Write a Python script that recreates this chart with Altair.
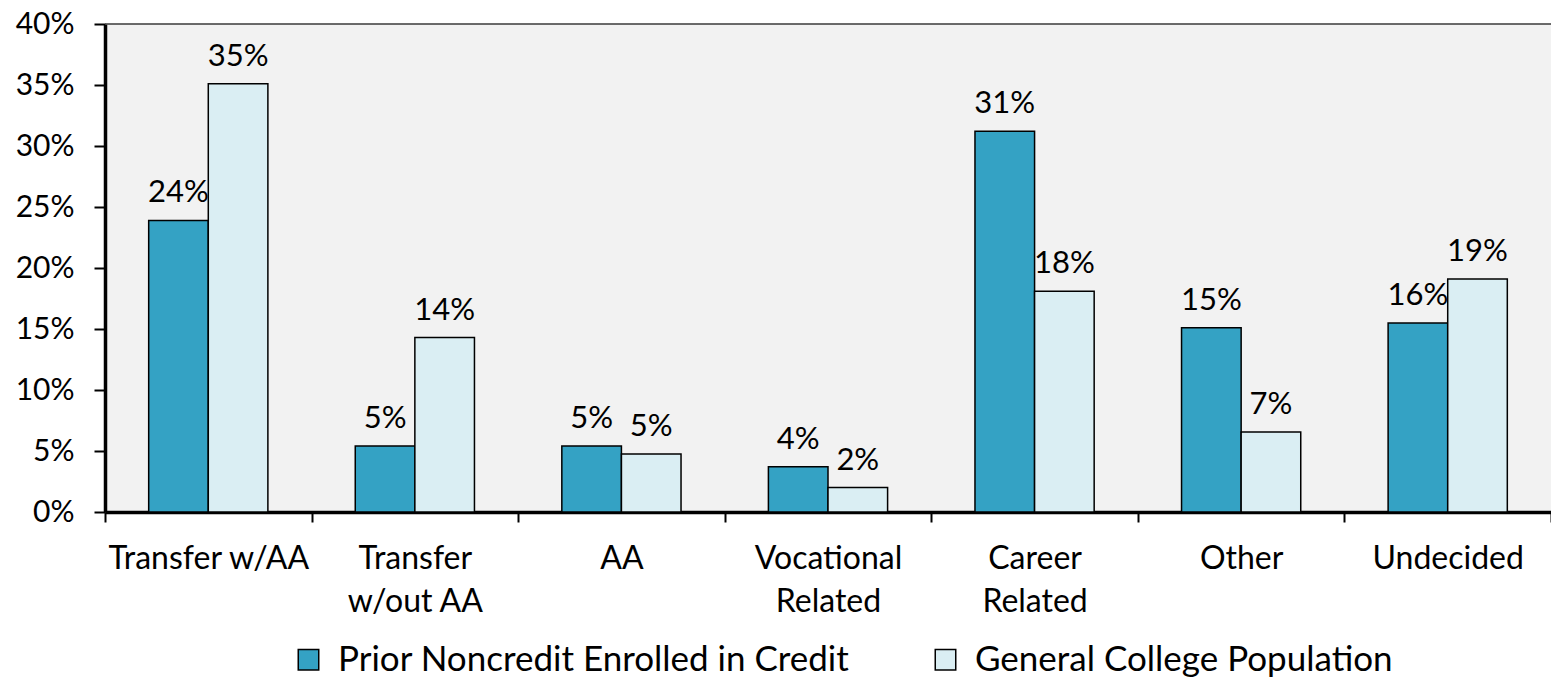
import altair as alt
import pandas as pd

categories = ["Transfer w/AA", "Transfer|w/out AA", "AA", "Vocational|Related",
              "Career|Related", "Other", "Undecided"]
series = ["Prior Noncredit Enrolled in Credit", "General College Population"]
prior = [23.9, 5.4, 5.4, 3.7, 31.2, 15.1, 15.5]
general = [35.1, 14.3, 4.75, 2.0, 18.1, 6.55, 19.1]
colors = ["#34A2C4", "#DAEEF3"]
y_ticks = [0, 5, 10, 15, 20, 25, 30, 35, 40]
y_max = 40

rows = []
for c, p, g in zip(categories, prior, general):
    rows.append({"category": c, "series": series[0], "value": p})
    rows.append({"category": c, "series": series[1], "value": g})
df = pd.DataFrame(rows)

FONT = "Lato"

x_enc = alt.X(
    "category:N", sort=categories,
    scale=alt.Scale(paddingInner=0, paddingOuter=0),
    axis=alt.Axis(
        title=None, labelExpr="split(datum.label, '|')", labelAngle=0,
        tickBand="extent", tickSize=10, tickWidth=2, tickColor="black",
        domainColor="black", domainWidth=3.5, labelPadding=21,
        labelLineHeight=43, labelFontSize=32, labelFont=FONT,
        labelColor="black", labelLimit=500,
    ),
)
xoff = alt.XOffset("series:N", sort=series,
                   scale=alt.Scale(paddingInner=0, paddingOuter=0.733))
y_enc = alt.Y(
    "value:Q", scale=alt.Scale(domain=[0, y_max], nice=False),
    axis=alt.Axis(
        title=None, values=y_ticks, labelExpr="datum.value + '%'", grid=False,
        tickSize=11, tickWidth=2, tickColor="black", domainColor="black",
        domainWidth=3.5, labelPadding=20, labelFontSize=30, labelFont=FONT,
        labelColor="black",
    ),
)

top_line = alt.Chart(pd.DataFrame({"top": [y_max]})).mark_rule(
    color="#3A3A3A", strokeWidth=1.5
).encode(y=alt.Y("top:Q", scale=alt.Scale(domain=[0, y_max], nice=False)))

bars = alt.Chart(df).mark_bar(stroke="black", strokeWidth=1.5).encode(
    x=x_enc, xOffset=xoff, y=y_enc,
    color=alt.Color(
        "series:N", sort=series,
        scale=alt.Scale(domain=series, range=colors),
        legend=alt.Legend(
            orient="none", legendX=186, legendY=618, direction="horizontal",
            title=None, symbolType="square", symbolSize=420,
            symbolStrokeColor="black", symbolStrokeWidth=1.5,
            labelFontSize=35, labelFont=FONT, labelColor="black",
            columnPadding=78, labelOffset=12, labelLimit=900,
        ),
    ),
)

texts = alt.Chart(df).transform_calculate(
    label="round(datum.value) + '%'"
).mark_text(baseline="alphabetic", dy=-18, fontSize=31, font=FONT,
            color="black").encode(
    x=alt.X("category:N", sort=categories), xOffset=alt.XOffset("series:N", sort=series),
    y="value:Q", text="label:N",
)

chart = alt.layer(top_line, bars, texts).properties(
    width=1446, height=488,
    autosize=alt.AutoSizeParams(type="none"),
    padding={"left": 97, "top": 16, "right": 0, "bottom": 165},
).configure(background="white").configure_view(
    fill="#F2F2F2", stroke=None
)

chart.save("out.html", embed_options={"renderer": "svg", "actions": False})
